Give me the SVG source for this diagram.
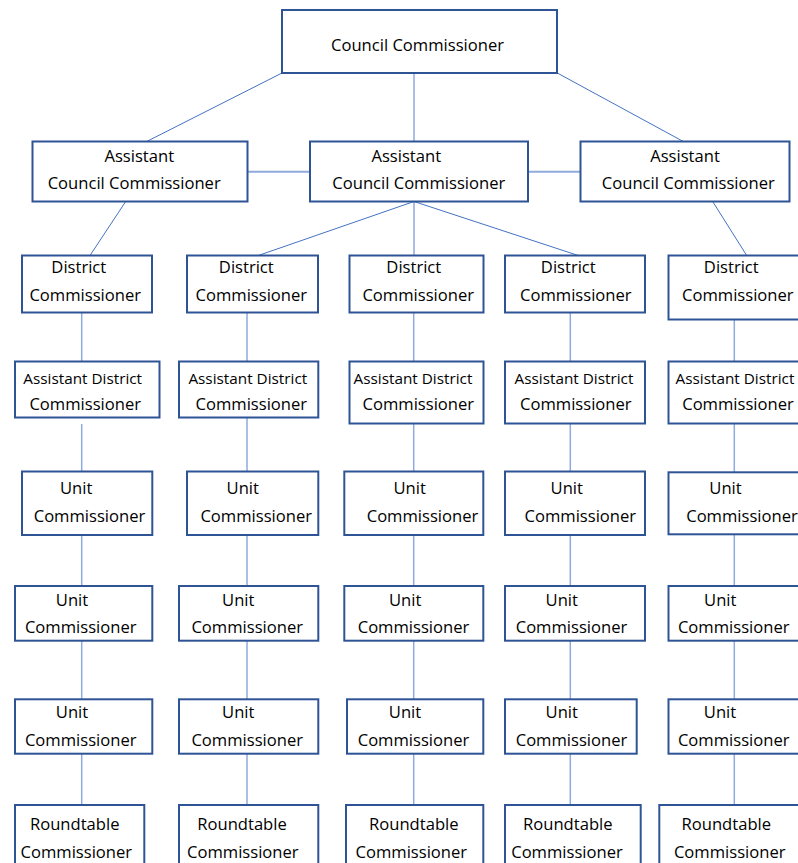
<svg xmlns="http://www.w3.org/2000/svg" width="798" height="863" viewBox="0 0 798 863">
<style>
.b{fill:#fff;stroke:#2f5496;stroke-width:2}
text{font-family:"Open Sans","Noto Sans","Liberation Sans",sans-serif;font-size:16.6px;fill:#000;text-anchor:middle}
.s{font-size:15.3px}
.v{stroke:#8faadc;stroke-width:1.5;fill:none}
.h{stroke:#8faadc;stroke-width:2;fill:none}
.d{stroke:#4472c4;stroke-width:1;fill:none}
</style>
<rect width="798" height="863" fill="#fff"/>
<g id="connectors">
<line class="d" x1="282" y1="73" x2="146.7" y2="141.5"/>
<line class="v" x1="414" y1="73" x2="414" y2="141.5"/>
<line class="d" x1="557.3" y1="73" x2="683.3" y2="141.5"/>
<line class="h" x1="247.5" y1="171.7" x2="310" y2="171.7"/>
<line class="h" x1="528" y1="171.7" x2="580.5" y2="171.7"/>
<line class="d" x1="125.7" y1="201.5" x2="90" y2="255.5"/>
<line class="d" x1="414" y1="201.5" x2="258.3" y2="255.5"/>
<line class="v" x1="414" y1="201.5" x2="414" y2="255.5"/>
<line class="d" x1="414" y1="201.5" x2="578.3" y2="255.5"/>
<line class="d" x1="712.7" y1="201.5" x2="746.7" y2="255.5"/>
<path class="v" d="M81.7 312.3V361.5M81.7 424V471.5M81.7 535V586M81.7 640.7V699.3M81.7 753.7V805"/>
<path class="v" d="M247 312.3V361.5M247 417.3V471.5M247 535V586M247 640.7V699.3M247 753.7V805"/>
<path class="v" d="M413.7 312.3V361.5M413.7 423.5V471.5M413.7 535V586M413.7 640.7V699.3M413.7 753.7V805"/>
<path class="v" d="M570.3 312.3V361.5M570.3 423.5V471.5M570.3 535V586M570.3 640.7V699.3M570.3 753.7V805"/>
<path class="v" d="M734.3 319.5V361.5M734.3 423.5V472M734.3 534.3V586M734.3 640.7V699.3M734.3 753.7V805"/>
</g>
<g id="council-commissioner"><rect class="b" x="282" y="10" width="275" height="63"/><text x="417.5" y="50.5">Council Commissioner</text></g>
<g id="acc-left"><rect class="b" x="32.5" y="141.5" width="215" height="60"/><text x="139.3" y="162.3">Assistant</text><text x="134.2" y="189.3">Council Commissioner</text></g>
<g id="acc-middle"><rect class="b" x="310" y="141.5" width="218" height="60"/><text x="406.3" y="162.3">Assistant</text><text x="418.8" y="189.3">Council Commissioner</text></g>
<g id="acc-right"><rect class="b" x="580.5" y="141.5" width="209" height="60"/><text x="685" y="162.3">Assistant</text><text x="688.3" y="189.3">Council Commissioner</text></g>

<g id="dc-1"><rect class="b" x="22" y="255.5" width="130" height="57"/><text x="78.8" y="273">District</text><text x="85.2" y="301">Commissioner</text></g>
<g id="dc-2"><rect class="b" x="187" y="255.5" width="131" height="57"/><text x="246.3" y="273">District</text><text x="251.3" y="301">Commissioner</text></g>
<g id="dc-3"><rect class="b" x="349.5" y="255.5" width="134" height="57"/><text x="413.8" y="273">District</text><text x="418.2" y="301">Commissioner</text></g>
<g id="dc-4"><rect class="b" x="505" y="255.5" width="140" height="57"/><text x="568.3" y="273">District</text><text x="575.8" y="301">Commissioner</text></g>
<g id="dc-5"><rect class="b" x="668.5" y="255.5" width="140" height="64"/><text x="731.3" y="273">District</text><text x="737.8" y="301">Commissioner</text></g>

<g id="adc-1"><rect class="b" x="15" y="361.5" width="144.5" height="56"/><text class="s" x="82.7" y="383.7">Assistant District</text><text x="85.2" y="409.5">Commissioner</text></g>
<g id="adc-2"><rect class="b" x="179" y="361.5" width="139.3" height="56"/><text class="s" x="247.8" y="383.7">Assistant District</text><text x="251.3" y="409.5">Commissioner</text></g>
<g id="adc-3"><rect class="b" x="349.5" y="361.5" width="134" height="62"/><text class="s" x="413" y="383.7">Assistant District</text><text x="418.3" y="409.5">Commissioner</text></g>
<g id="adc-4"><rect class="b" x="505" y="361.5" width="140" height="62"/><text class="s" x="574" y="383.7">Assistant District</text><text x="575.8" y="409.5">Commissioner</text></g>
<g id="adc-5"><rect class="b" x="668.5" y="361.5" width="140" height="62"/><text class="s" x="735" y="383.7">Assistant District</text><text x="738" y="409.5">Commissioner</text></g>

<g id="uc1-1"><rect class="b" x="22" y="471.5" width="130.3" height="63.5"/><text x="76.2" y="493.9">Unit</text><text x="89.5" y="521.7">Commissioner</text></g>
<g id="uc1-2"><rect class="b" x="187" y="471.5" width="131.3" height="63.5"/><text x="242.8" y="493.9">Unit</text><text x="256.2" y="521.7">Commissioner</text></g>
<g id="uc1-3"><rect class="b" x="344.3" y="471.5" width="139" height="63.5"/><text x="409.7" y="493.9">Unit</text><text x="422.5" y="521.7">Commissioner</text></g>
<g id="uc1-4"><rect class="b" x="505" y="471.5" width="140" height="63.5"/><text x="566.8" y="493.9">Unit</text><text x="580.3" y="521.7">Commissioner</text></g>
<g id="uc1-5"><rect class="b" x="668.5" y="472.3" width="140" height="62"/><text x="725.5" y="493.9">Unit</text><text x="742" y="521.7">Commissioner</text></g>

<g id="uc2-1"><rect class="b" x="15" y="586" width="137.3" height="54.7"/><text x="72" y="605.7">Unit</text><text x="80.7" y="633.3">Commissioner</text></g>
<g id="uc2-2"><rect class="b" x="179" y="586" width="139.3" height="54.7"/><text x="238.3" y="605.7">Unit</text><text x="247.2" y="633.3">Commissioner</text></g>
<g id="uc2-3"><rect class="b" x="344.3" y="586" width="139" height="54.7"/><text x="405.2" y="605.7">Unit</text><text x="413.5" y="633.3">Commissioner</text></g>
<g id="uc2-4"><rect class="b" x="505" y="586" width="140" height="54.7"/><text x="561.8" y="605.7">Unit</text><text x="571.5" y="633.3">Commissioner</text></g>
<g id="uc2-5"><rect class="b" x="668.5" y="586" width="140" height="54.7"/><text x="720.3" y="605.7">Unit</text><text x="733.7" y="633.3">Commissioner</text></g>

<g id="uc3-1"><rect class="b" x="15" y="699.3" width="137.3" height="54.4"/><text x="72" y="717.7">Unit</text><text x="80.7" y="745.5">Commissioner</text></g>
<g id="uc3-2"><rect class="b" x="179" y="699.3" width="139.3" height="54.4"/><text x="238.3" y="717.7">Unit</text><text x="247.2" y="745.5">Commissioner</text></g>
<g id="uc3-3"><rect class="b" x="347" y="699.3" width="136.3" height="54.4"/><text x="405" y="717.7">Unit</text><text x="413.5" y="745.5">Commissioner</text></g>
<g id="uc3-4"><rect class="b" x="505" y="699.3" width="131.7" height="54.4"/><text x="561.8" y="717.7">Unit</text><text x="571.5" y="745.5">Commissioner</text></g>
<g id="uc3-5"><rect class="b" x="668.5" y="699.3" width="140" height="54.4"/><text x="720" y="717.7">Unit</text><text x="733.7" y="745.5">Commissioner</text></g>

<g id="rt-1"><rect class="b" x="15" y="805" width="129.3" height="70"/><text x="74.7" y="830">Roundtable</text><text x="76.3" y="857.7">Commissioner</text></g>
<g id="rt-2"><rect class="b" x="179" y="805" width="139.3" height="70"/><text x="242" y="830">Roundtable</text><text x="242.8" y="857.7">Commissioner</text></g>
<g id="rt-3"><rect class="b" x="346" y="805" width="137.3" height="70"/><text x="413.8" y="830">Roundtable</text><text x="411.3" y="857.7">Commissioner</text></g>
<g id="rt-4"><rect class="b" x="505" y="805" width="135.7" height="70"/><text x="567.8" y="830">Roundtable</text><text x="567" y="857.7">Commissioner</text></g>
<g id="rt-5"><rect class="b" x="659.3" y="805" width="150" height="70"/><text x="726.3" y="830">Roundtable</text><text x="729.7" y="857.7">Commissioner</text></g>
</svg>
